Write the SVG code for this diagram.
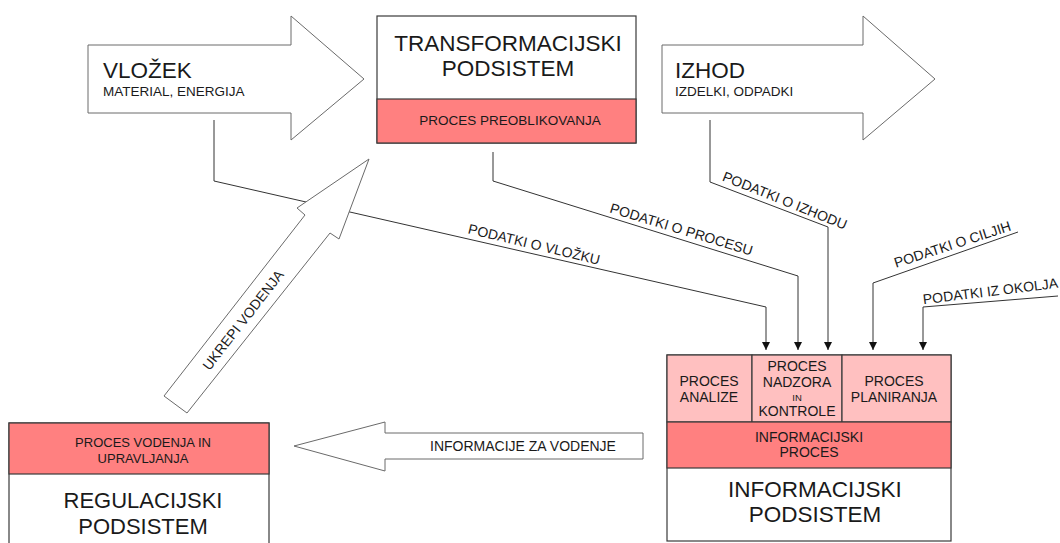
<svg xmlns="http://www.w3.org/2000/svg" width="1060" height="543" viewBox="0 0 1060 543">
<style>
text{font-family:"Liberation Sans",Arial,sans-serif;fill:#1a1a1a}
.big{font-size:22.5px}
.sub{font-size:13.5px}
.lbl{font-size:14px}
.cell{font-size:14px;text-anchor:middle}
.mid{text-anchor:middle}
.box{fill:#fff;stroke:#3a3a3a;stroke-width:1.2}
.red{fill:#ff8080;stroke:#3a3a3a;stroke-width:1.2}
.pink{fill:#ffc0c0;stroke:#3a3a3a;stroke-width:1.2}
.arr{fill:#fff;stroke:#6a6a6a;stroke-width:1}
.con{fill:none;stroke:#333;stroke-width:1}
</style>
<defs>
<marker id="ah" viewBox="0 0 10 10" refX="10" refY="5" markerWidth="8" markerHeight="8" markerUnits="userSpaceOnUse" orient="auto">
<path d="M0,0 L10,5 L0,10 z" fill="#111"/>
</marker>
</defs>
<rect width="1060" height="543" fill="#fff"/>

<g id="connectors">
<path class="con" d="M214,120 V181 L766,307 V350" marker-end="url(#ah)"/>
<path class="con" d="M493,152 V181 L798,276 V350" marker-end="url(#ah)"/>
<path class="con" d="M710,120 V182 L828,227 V350" marker-end="url(#ah)"/>
<path class="con" d="M1018,232 L873,283 V350" marker-end="url(#ah)"/>
<path class="con" d="M1058,296 L923,307 V350" marker-end="url(#ah)"/>
<text class="lbl mid" x="533" y="249" transform="rotate(13.5 533 249)">PODATKI O VLOŽKU</text>
<text class="lbl mid" x="680" y="234" transform="rotate(17 680 234)">PODATKI O PROCESU</text>
<text class="lbl mid" x="783" y="205" transform="rotate(22 783 205)">PODATKI O IZHODU</text>
<text class="lbl mid" x="954" y="249" transform="rotate(-18 954 249)">PODATKI O CILJIH</text>
<text class="lbl mid" x="991" y="296" transform="rotate(-7 991 296)">PODATKI IZ OKOLJA</text>
</g>

<g id="vlozek">
<polygon class="arr" points="88,45 291,45 291,16 364,79 291,140 291,113 88,113"/>
<text class="big" x="103" y="78">VLOŽEK</text>
<text class="sub" x="103" y="96">MATERIAL, ENERGIJA</text>
</g>

<g id="transformacijski">
<rect class="box" x="377" y="16" width="259" height="127"/>
<rect class="red" x="377" y="99" width="259" height="44"/>
<text class="big mid" x="508" y="51">TRANSFORMACIJSKI</text>
<text class="big mid" x="508" y="76">PODSISTEM</text>
<text class="sub mid" x="510" y="125">PROCES PREOBLIKOVANJA</text>
</g>

<g id="izhod">
<polygon class="arr" points="662,45 863,45 863,16 935,79 863,140 863,113 662,113"/>
<text class="big" x="675" y="78">IZHOD</text>
<text class="sub" x="675" y="96">IZDELKI, ODPADKI</text>
</g>

<g id="ukrepi">
<polygon class="arr" points="164,396 305,215 297,208 369,159 339,239 330,233 187,413"/>
<text class="lbl mid" x="247" y="323" font-size="13.5" transform="rotate(-52 247 323)">UKREPI VODENJA</text>
</g>

<g id="informacije">
<polygon class="arr" points="643,433 385,433 385,422 294,446 385,471 385,459 643,459"/>
<text class="lbl mid" x="523" y="451">INFORMACIJE ZA VODENJE</text>
</g>

<g id="regulacijski">
<rect class="box" x="9" y="423" width="260" height="130"/>
<rect class="red" x="9" y="423" width="260" height="51"/>
<text class="mid" x="143" y="447" font-size="13">PROCES VODENJA IN</text>
<text class="mid" x="143" y="463" font-size="13">UPRAVLJANJA</text>
<text class="mid" x="143" y="508" font-size="22">REGULACIJSKI</text>
<text class="mid" x="143" y="534" font-size="22">PODSISTEM</text>
</g>

<g id="informacijski">
<rect class="box" x="667" y="355" width="284" height="186"/>
<rect class="pink" x="667" y="355" width="85" height="67"/>
<rect class="pink" x="752" y="355" width="90" height="67"/>
<rect class="pink" x="842" y="355" width="109" height="67"/>
<rect class="red" x="667" y="422" width="284" height="46"/>
<text class="cell" x="709" y="386">PROCES</text>
<text class="cell" x="709" y="402">ANALIZE</text>
<text class="cell" x="797" y="371">PROCES</text>
<text class="cell" x="797" y="387">NADZORA</text>
<text class="mid" x="797" y="401" font-size="9.5">IN</text>
<text class="cell" x="797" y="416">KONTROLE</text>
<text class="cell" x="894" y="386">PROCES</text>
<text class="cell" x="894" y="402">PLANIRANJA</text>
<text class="cell" x="809" y="442">INFORMACIJSKI</text>
<text class="cell" x="809" y="457">PROCES</text>
<text class="big mid" x="815" y="497">INFORMACIJSKI</text>
<text class="big mid" x="815" y="522">PODSISTEM</text>
</g>
</svg>
